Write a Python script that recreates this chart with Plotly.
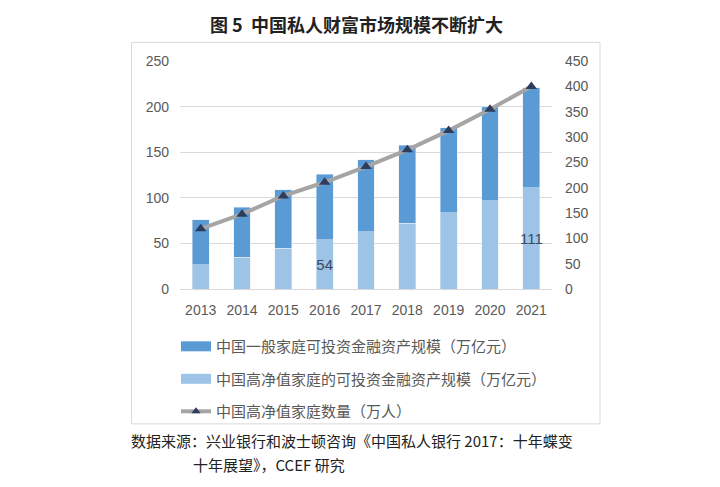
import plotly.graph_objects as go

years = ["2013", "2014", "2015", "2016", "2017", "2018", "2019", "2020", "2021"]
hnw_assets = [27, 35, 45, 54, 63, 72, 84, 97, 111]          # 高净值家庭可投资金融资产 (万亿元)
general_assets = [49, 55, 64, 72, 79, 86, 93, 103, 110]     # 一般家庭 (stacked segment, 万亿元)
hnw_households = [119, 148, 184, 211, 242, 275, 313, 355, 400]  # 高净值家庭数量 (万人)
label_years = ["2016", "2021"]

name_general = "中国一般家庭可投资金融资产规模（万亿元）"
name_hnw = "中国高净值家庭的可投资金融资产规模（万亿元）"
name_count = "中国高净值家庭数量（万人）"

W, H = 720, 487
def px(x): return x / W
def py(y): return 1 - y / H

C_DARK = "#5B9BD5"
C_LIGHT = "#9DC3E6"
C_LINE = "#A5A5A5"
C_MARK = "#2E3D5C"
C_TXT = "#595959"
FONT = "Liberation Sans, Noto Sans CJK SC, sans-serif"

hnw_text = [str(v) if y in label_years else "" for y, v in zip(years, hnw_assets)]

fig = go.Figure()
fig.add_trace(go.Bar(x=years, y=hnw_assets, marker_color=C_LIGHT, showlegend=False,
                     text=hnw_text, textposition="inside", insidetextanchor="middle",
                     textangle=0, constraintext="none", cliponaxis=False,
                     textfont=dict(color="#3A4A66", size=15), hoverinfo="y"))
fig.add_trace(go.Bar(x=years, y=general_assets, marker_color=C_DARK, showlegend=False))
fig.add_trace(go.Scatter(x=years, y=hnw_households, yaxis="y2", mode="lines+markers",
                         line=dict(color=C_LINE, width=4),
                         marker=dict(symbol="triangle-up", size=10, color=C_MARK),
                         showlegend=False))

# legend entries
fig.add_trace(go.Scatter(x=[None], y=[None], mode="lines", name=name_general,
                         line=dict(color=C_DARK, width=10), legendgroup="a"))
fig.add_trace(go.Scatter(x=[None], y=[None], mode="lines", name=name_hnw,
                         line=dict(color=C_LIGHT, width=10), legendgroup="b"))
fig.add_trace(go.Scatter(x=[None], y=[None], mode="lines+markers", name=name_count,
                         line=dict(color=C_LINE, width=4),
                         marker=dict(symbol="triangle-up", size=8, color=C_MARK),
                         legendgroup="c"))

fig.update_layout(
    width=W, height=H,
    margin=dict(l=0, r=0, t=0, b=0),
    paper_bgcolor="white", plot_bgcolor="white",
    font=dict(family=FONT, color=C_TXT, size=14),
    barmode="stack", bargap=0.59,
    uniformtext=dict(mode=False),
    xaxis=dict(domain=[px(180), px(552)], type="category", range=[-0.5, 8.5],
               showline=True, linecolor="#D9D9D9", linewidth=1, ticks="",
               tickfont=dict(size=14, color=C_TXT), ticklabelstandoff=8,
               showgrid=False, fixedrange=True),
    yaxis=dict(domain=[py(290.7), py(55)], range=[0, 250], dtick=50,
               showgrid=True, gridcolor="#D9D9D9", gridwidth=1, zeroline=False,
               tickfont=dict(size=14, color=C_TXT), ticklabelstandoff=10),
    yaxis2=dict(overlaying="y", side="right", range=[0, 450], dtick=50,
                showgrid=False, zeroline=False,
                tickfont=dict(size=14, color=C_TXT), ticklabelstandoff=12),
    legend=dict(x=px(176), y=py(333), xanchor="left", yanchor="top",
                orientation="v", tracegroupgap=10,
                font=dict(size=15, color=C_TXT, family="Noto Sans CJK SC"),
                bgcolor="rgba(0,0,0,0)"),
    shapes=[dict(type="rect", xref="paper", yref="paper",
                 x0=px(131.5), x1=px(600), y0=py(430), y1=py(35.5),
                 line=dict(color="#D9D9D9", width=1), fillcolor="rgba(0,0,0,0)",
                 layer="below")],
    annotations=[
        dict(text="<b>图 5  中国私人财富市场规模不断扩大</b>", xref="paper", yref="paper",
             x=px(356), y=py(17), xanchor="center", yanchor="middle", showarrow=False,
             font=dict(size=18, color="#222222", family="Noto Sans CJK SC")),
        dict(text="数据来源：兴业银行和波士顿咨询《中国私人银行 2017：十年蝶变", xref="paper", yref="paper",
             x=px(129), y=py(447), xanchor="left", yanchor="middle", showarrow=False,
             font=dict(size=15, color="#222222", family="Noto Sans CJK SC")),
        dict(text="十年展望》，CCEF 研究", xref="paper", yref="paper",
             x=px(191), y=py(472), xanchor="left", yanchor="middle", showarrow=False,
             font=dict(size=15, color="#222222", family="Noto Sans CJK SC")),
    ],
)

fig.write_html("out.html")
